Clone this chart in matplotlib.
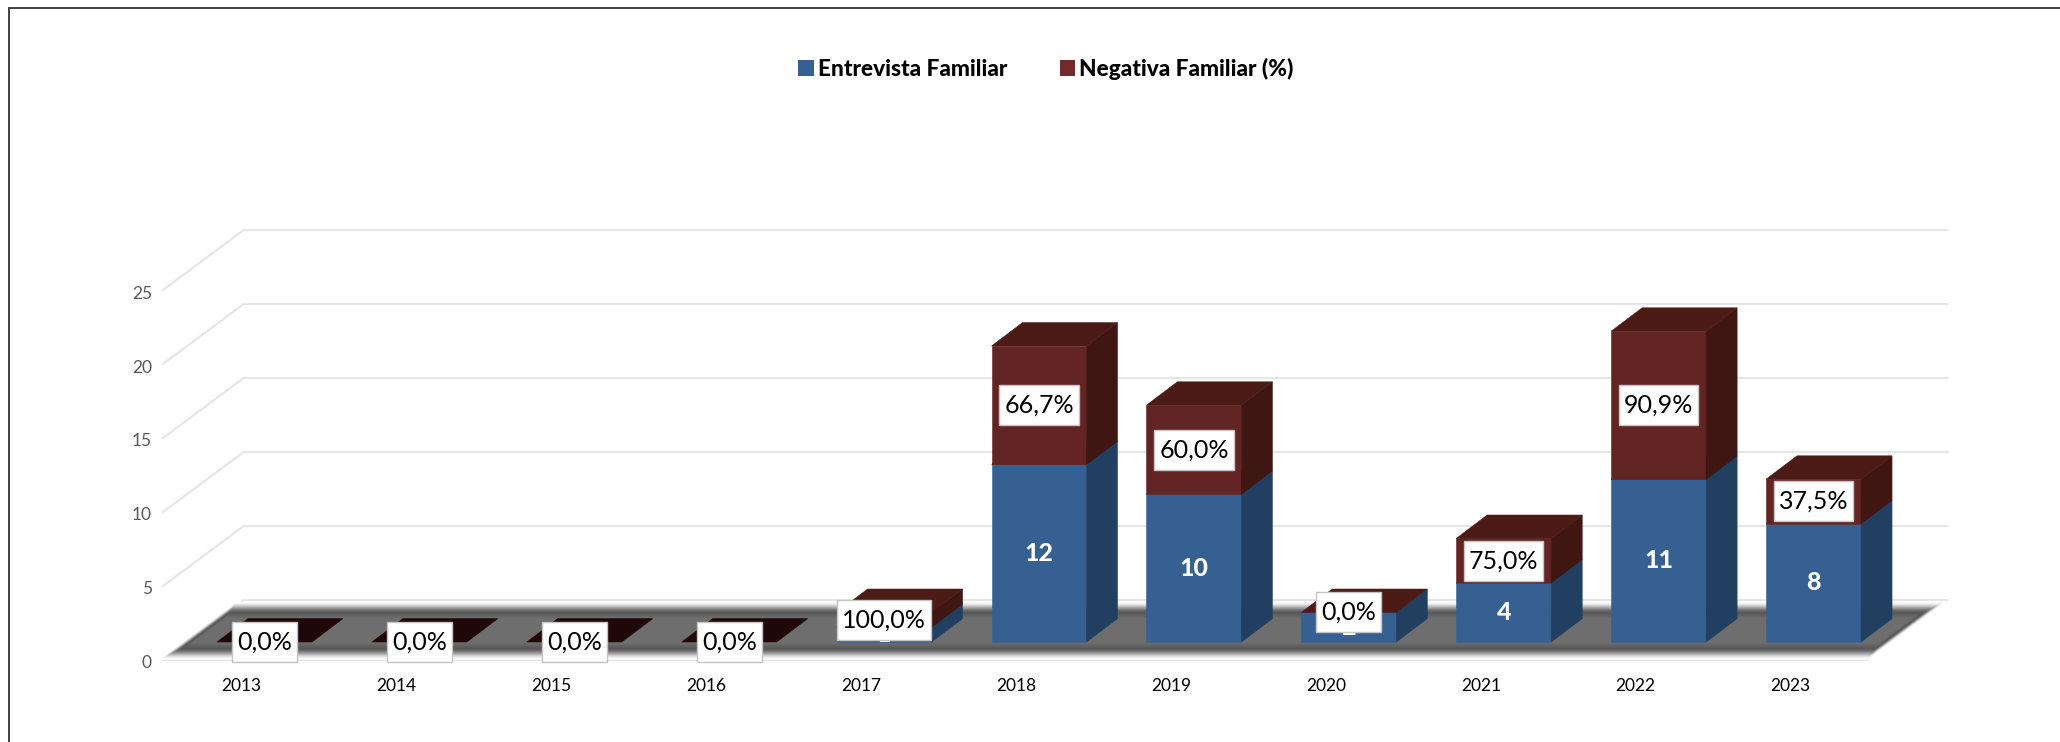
import matplotlib
matplotlib.use("Agg")
import matplotlib.pyplot as plt
from matplotlib.patches import Polygon, Patch
from matplotlib.lines import Line2D
from matplotlib.path import Path
from matplotlib.transforms import ScaledTranslation
import numpy as np

plt.rcParams['font.family'] = ['Lato', 'DejaVu Sans']

years = ['2013', '2014', '2015', '2016', '2017', '2018', '2019', '2020', '2021', '2022', '2023']
entrevista = [0, 0, 0, 0, 1, 12, 10, 2, 4, 11, 8]
negativa = [0, 0, 0, 0, 1, 8, 6, 0, 3, 10, 3]
negativa_pct = ['0,0%', '0,0%', '0,0%', '0,0%', '100,0%', '66,7%', '60,0%', '0,0%', '75,0%', '90,9%', '37,5%']
y_ticks = [0, 5, 10, 15, 20, 25]
series_names = ['Entrevista Familiar', 'Negativa Familiar (%)']

W, H = 2060, 742
fig = plt.figure(figsize=(W / 100, H / 100), dpi=100, facecolor='white')
L, R, B, T = 163, 1867, 660, 290
ax = fig.add_axes([L / W, 1 - B / H, (R - L) / W, (B - T) / H])
ax.set_xlim(-0.5, 10.5)
ax.set_ylim(0, 25)
ax.patch.set_visible(False)
for s in ax.spines.values():
    s.set_visible(False)

# pseudo-3D geometry, in data units
WALL_DX, WALL_DY = 0.52, 4.05       # floor depth
BAR_W = 0.613
BAR_OX, BAR_OY = 0.155, 1.216       # bar front plane offset from the axis plane
BAR_DX, BAR_DY = 0.20, 1.58         # bar depth

GRID = '#e5e5e5'
x0, x1 = -0.5, 10.5
for v in y_ticks:
    ax.plot([x0, x0 + WALL_DX, x1 + WALL_DX], [v, v + WALL_DY, v + WALL_DY],
            color=GRID, lw=1.5, clip_on=False, zorder=1, solid_joinstyle='miter')
ax.plot([x0, x1], [0, 0], color=GRID, lw=1.5, clip_on=False, zorder=1)

# soft floor shadow: nested parallelograms from the blurred rim to the flat interior
sh_y0, sh_y1 = 1.12, 2.85
sh_xl, sh_xr = -0.35, 10.61
slope = WALL_DX / WALL_DY
for t in np.linspace(0, 1, 50):
    grow = 1.1 * (1 - t)
    inset = 0.07 * (t - 0.5)
    ya, yb = sh_y0 - grow, sh_y1 + grow
    if t < 0.7:
        u = t / 0.7
        g = 1 - (u * u * (3 - 2 * u)) * 0.65
    else:
        g = 0.35 + (t - 0.7) / 0.3 * 0.08
    ax.add_patch(Polygon([(sh_xl + inset + (ya - sh_y0) * slope, ya), (sh_xr - inset + (ya - sh_y0) * slope, ya),
                          (sh_xr - inset + (yb - sh_y0) * slope, yb), (sh_xl + inset + (yb - sh_y0) * slope, yb)],
                         closed=True, fc=(g, g, g), ec='none', clip_on=False, zorder=2))

BLUE, BLUE_S = '#376092', '#213f61'
RED, RED_S, RED_T = '#632523', '#401612', '#4c1b16'
ZERO = '#210808'


def face(pts, color):
    ax.add_patch(Polygon(pts, fc=color, ec=color, lw=0.4, clip_on=False, zorder=4))


def box3d(xc, lo, hi, front, side, top):
    xl, xr = xc - BAR_W / 2 + BAR_OX, xc + BAR_W / 2 + BAR_OX
    ylo, yhi = lo + BAR_OY, hi + BAR_OY
    if hi > lo:
        face([(xl, ylo), (xr, ylo), (xr, yhi), (xl, yhi)], front)
        face([(xr, ylo), (xr + BAR_DX, ylo + BAR_DY), (xr + BAR_DX, yhi + BAR_DY), (xr, yhi)], side)
    face([(xl, yhi), (xr, yhi), (xr + BAR_DX, yhi + BAR_DY), (xl + BAR_DX, yhi + BAR_DY)], top)


pos = np.arange(len(years))
for i, (a, b) in enumerate(zip(entrevista, negativa)):
    if a == 0 and b == 0:
        box3d(i, 0, 0, ZERO, ZERO, ZERO)
        continue
    box3d(i, 0, a, BLUE, BLUE_S, RED_T)
    if b > 0:
        box3d(i, a, a + b, RED, RED_S, RED_T)


def label_box(x, y, w, h, mutation_size):
    # fixed-height white label as in the reference
    cy = y + h / 2
    hw, hh = w / 2 + 5, 20
    cx = x + w / 2
    return Path([(cx - hw, cy - hh), (cx + hw, cy - hh), (cx + hw, cy + hh), (cx - hw, cy + hh), (cx - hw, cy - hh)],
                closed=True)


for i, (a, b, p) in enumerate(zip(entrevista, negativa, negativa_pct)):
    xc = i + BAR_OX
    if a > 0:
        ax.text(xc, a / 2 + BAR_OY, str(a), ha='center', va='center', color='white',
                fontsize=18, fontweight=900, zorder=5, clip_on=False)
    ax.text(xc, a + b / 2 + BAR_OY, p, ha='center', va='center', color='black', fontsize=18, zorder=6,
            clip_on=False, bbox=dict(boxstyle=label_box, fc='white', ec='#c4c4c4', lw=1.0))

ax.set_xticks(pos)
ax.set_xticklabels(years, fontsize=12.5, color='black')
ax.set_yticks(y_ticks)
ax.set_yticklabels([str(v) for v in y_ticks], fontsize=12.5, color='#595959')
ax.tick_params(axis='x', length=0, pad=13)
ax.tick_params(axis='y', length=0, pad=8)
yshift = ScaledTranslation(0, -2 / 100, fig.dpi_scale_trans)
for lab in ax.get_yticklabels():
    lab.set_transform(lab.get_transform() + yshift)
xshift = ScaledTranslation(1 / 100, 0, fig.dpi_scale_trans)
for lab in ax.get_xticklabels():
    lab.set_transform(lab.get_transform() + xshift)

handles = [Patch(fc=BLUE, ec='none'), Patch(fc='#722b2a', ec='none')]
leg = fig.legend(handles, series_names, ncol=2, frameon=False,
                 loc='center', bbox_to_anchor=(1046 / W, 1 - 69 / H),
                 prop=dict(family='Lato', weight=900, size=16.3),
                 handlelength=0.68, handleheight=0.68, handletextpad=0.2,
                 columnspacing=2.3, borderpad=0, borderaxespad=0)

# frame: only top and left edges are inside the picture
fig.add_artist(Line2D([8.5 / W, 8.5 / W, 1], [0, 1 - 7.5 / H, 1 - 7.5 / H],
                      transform=fig.transFigure, color='#333333', lw=1.3, solid_joinstyle='miter'))

fig.savefig('out.png', dpi=100, facecolor='white')
